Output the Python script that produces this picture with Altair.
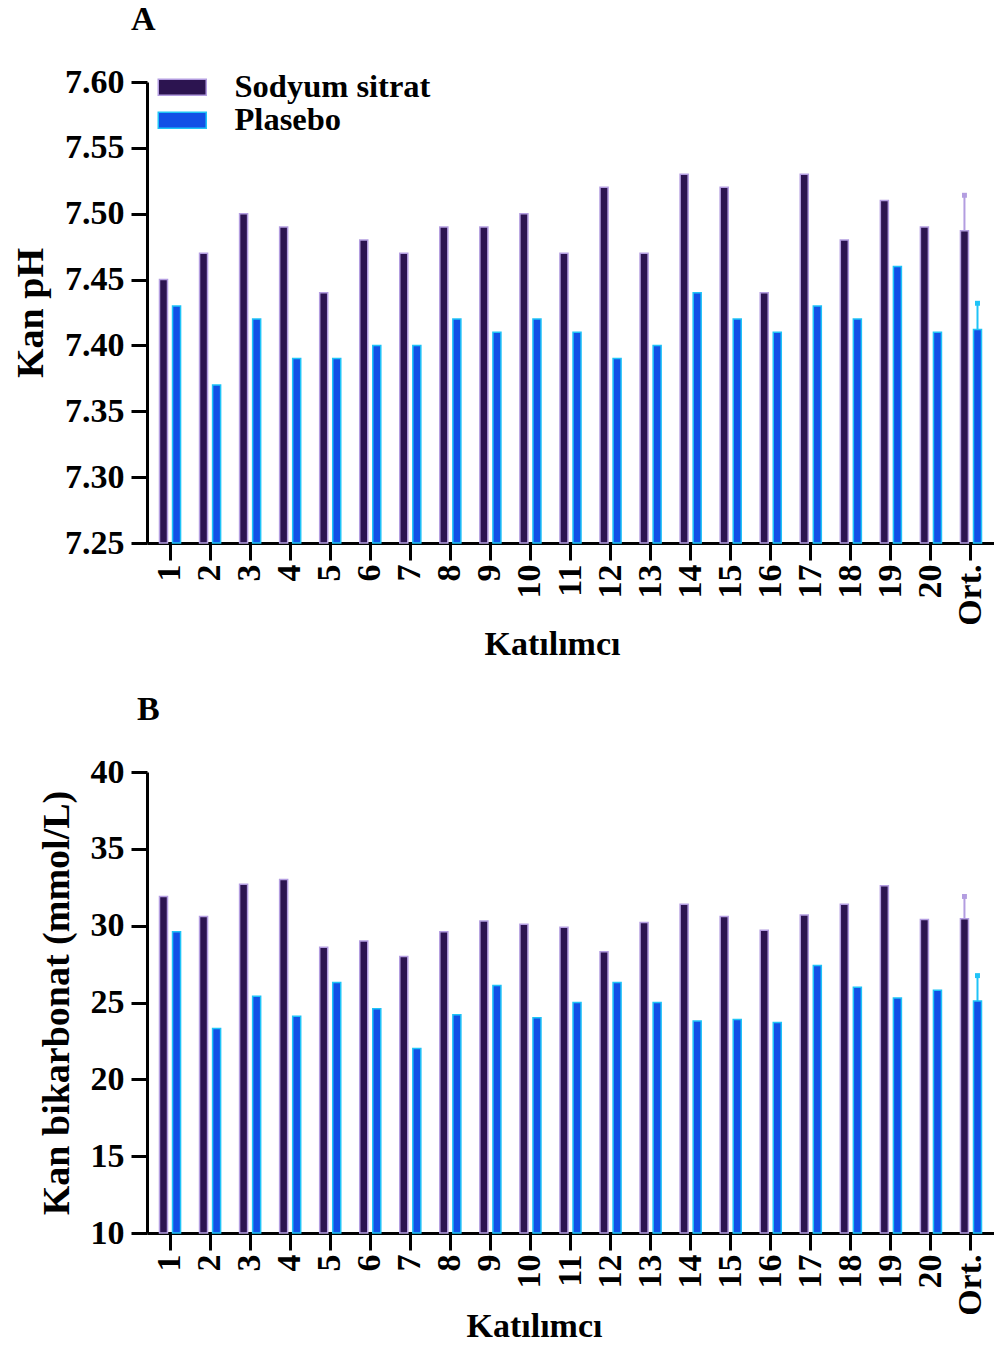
import altair as alt
import pandas as pd

participants = [str(i) for i in range(1, 21)] + ["Ort."]
groups = ["Sodyum sitrat", "Plasebo"]

ph_sodyum = [7.45, 7.47, 7.50, 7.49, 7.44, 7.48, 7.47, 7.49, 7.49, 7.50, 7.47,
             7.52, 7.47, 7.53, 7.52, 7.44, 7.53, 7.48, 7.51, 7.49, 7.487]
ph_plasebo = [7.43, 7.37, 7.42, 7.39, 7.39, 7.40, 7.40, 7.42, 7.41, 7.42, 7.41,
              7.39, 7.40, 7.44, 7.42, 7.41, 7.43, 7.42, 7.46, 7.41, 7.412]
ph_sd = [0.027, 0.020]

hco3_sodyum = [31.9, 30.6, 32.7, 33.0, 28.6, 29.0, 28.0, 29.6, 30.3, 30.1, 29.9,
               28.3, 30.2, 31.4, 30.6, 29.7, 30.7, 31.4, 32.6, 30.4, 30.45]
hco3_plasebo = [29.6, 23.3, 25.4, 24.1, 26.3, 24.6, 22.0, 24.2, 26.1, 24.0, 25.0,
                26.3, 25.0, 23.8, 23.9, 23.7, 27.4, 26.0, 25.3, 25.8, 25.1]
hco3_sd = [1.45, 1.65]

fill_colors = ["#2C1450", "#124FE6"]
stroke_colors = ["#B39DE0", "#1FC3F7"]
FONT = "Liberation Serif"


def make_df(a, b):
    rows = []
    for p, va, vb in zip(participants, a, b):
        rows.append({"participant": p, "group": groups[0], "value": va})
        rows.append({"participant": p, "group": groups[1], "value": vb})
    return pd.DataFrame(rows)


def make_err(a, b, sd):
    return pd.DataFrame({
        "participant": ["Ort.", "Ort."],
        "group": groups,
        "value": [a[-1], b[-1]],
        "top": [a[-1] + sd[0], b[-1] + sd[1]],
    })


def panel(df, err, letter, letter_dx, ytitle, domain, ticks, fmt, xtitle_x, xtitle_pad):
    x = alt.X("participant:N", sort=participants,
              scale=alt.Scale(paddingInner=0.35, paddingOuter=0.25),
              axis=alt.Axis(title="Katılımcı", labelAngle=-90, labelFontSize=34,
                            labelPadding=4, tickSize=17, tickWidth=3, tickColor="black",
                            domainWidth=3, domainColor="black", titlePadding=xtitle_pad,
                            titleFontSize=34, titleX=xtitle_x, titleAlign="center"))
    xo = alt.XOffset("group:N", sort=groups,
                     scale=alt.Scale(paddingInner=0.385, paddingOuter=0.19))
    y = alt.Y("value:Q",
              scale=alt.Scale(domain=domain, zero=False, nice=False),
              axis=alt.Axis(title=ytitle, values=ticks, format=fmt, labelFontSize=34,
                            labelPadding=7, tickSize=16, tickWidth=3, tickColor="black",
                            domainWidth=3, domainColor="black", titlePadding=14,
                            titleFontSize=38, grid=False))
    legend = alt.Legend(title=None, orient="none", legendX=19, legendY=-11,
                        symbolType="M-3,-1L3,-1L3,1L-3,1Z",
                        symbolSize=256, symbolStrokeWidth=1.5, symbolOpacity=1,
                        labelFont=FONT, labelFontWeight="bold", labelFontSize=32.5,
                        labelColor="black", labelOffset=36, rowPadding=-10,
                        labelLimit=0)
    color = alt.Color("group:N", sort=groups,
                      scale=alt.Scale(domain=groups, range=fill_colors), legend=legend)
    stroke = alt.Stroke("group:N", sort=groups,
                        scale=alt.Scale(domain=groups, range=stroke_colors), legend=legend)

    bars = alt.Chart(df).mark_bar(strokeWidth=1.5, opacity=1).encode(
        x=x, xOffset=xo, y=y, y2=alt.datum(domain[0]), color=color, stroke=stroke)
    rules = alt.Chart(err).mark_rule(strokeWidth=2).encode(
        x=x, xOffset=xo, y="value:Q", y2="top:Q", stroke=stroke)
    caps = alt.Chart(err).mark_point(shape="square", filled=False, size=6,
                                     strokeWidth=2.5, opacity=1).encode(
        x=x, xOffset=xo, y="top:Q", stroke=stroke)
    return alt.layer(bars, rules, caps).properties(
        width=847, height=461,
        title=alt.TitleParams(letter, anchor="start", dx=letter_dx, fontSize=34, font=FONT,
                              fontWeight="bold", color="black", offset=28, frame="group"))


top = panel(make_df(ph_sodyum, ph_plasebo), make_err(ph_sodyum, ph_plasebo, ph_sd),
            "A", -16, "Kan pH", [7.25, 7.60],
            [7.25, 7.30, 7.35, 7.40, 7.45, 7.50, 7.55, 7.60], ".2f", 405, 2)
bottom = panel(make_df(hco3_sodyum, hco3_plasebo), make_err(hco3_sodyum, hco3_plasebo, hco3_sd),
               "B", -10, "Kan bikarbonat (mmol/L)", [10, 40],
               [10, 15, 20, 25, 30, 35, 40], "d", 387, -6)

chart = alt.vconcat(top, bottom, spacing=31).resolve_scale(
    y="independent", color="shared", stroke="shared"
).configure_view(stroke=None).configure_axis(
    labelFont=FONT, labelFontWeight="bold", labelColor="black",
    titleFont=FONT, titleFontWeight="bold", titleColor="black"
).properties(padding={"left": 12, "top": 3, "right": 0, "bottom": 0})

chart.save("out.html", embed_options={"renderer": "svg", "actions": False})
